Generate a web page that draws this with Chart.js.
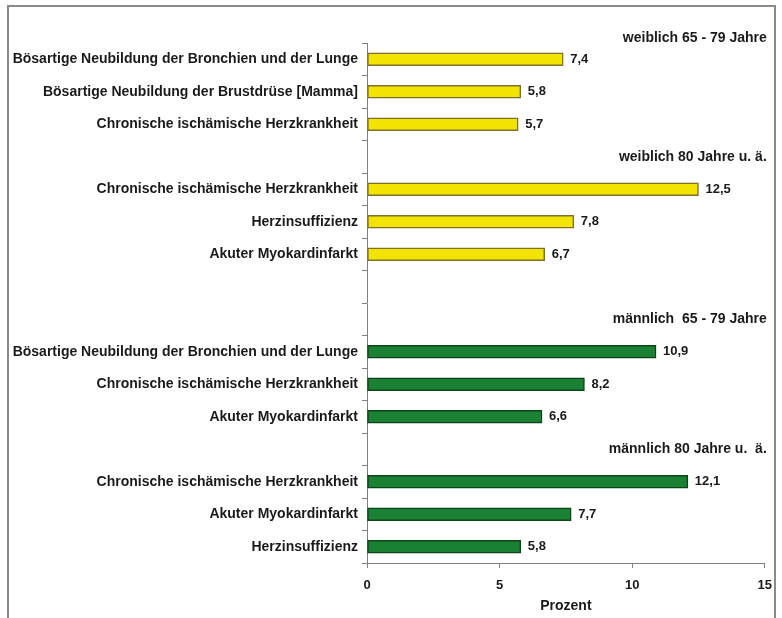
<!DOCTYPE html>
<html lang="de">
<head>
    <meta charset="UTF-8">
    <title>Todesursachen nach Alter und Geschlecht</title>
    <script src="https://cdn.jsdelivr.net/npm/chart.js"></script>
    <style>
        body {
            margin: 0;
            padding: 0;
            background: #ffffff;
        }
        #wrap {
            position: relative;
            width: 782px;
            height: 618px;
        }
    </style>
</head>
<body>
    <div id="wrap">
        <canvas id="ursachenChart" width="782" height="618"></canvas>
    </div>

    <script>
        // Kategorien (leere Zeilen = Abstand zwischen den Gruppen)
        const kategorien = [
            'Bösartige Neubildung der Bronchien und der Lunge',
            'Bösartige Neubildung der Brustdrüse [Mamma]',
            'Chronische ischämische Herzkrankheit',
            '',
            'Chronische ischämische Herzkrankheit',
            'Herzinsuffizienz',
            'Akuter Myokardinfarkt',
            '',
            '',
            'Bösartige Neubildung der Bronchien und der Lunge',
            'Chronische ischämische Herzkrankheit',
            'Akuter Myokardinfarkt',
            '',
            'Chronische ischämische Herzkrankheit',
            'Akuter Myokardinfarkt',
            'Herzinsuffizienz'
        ];
        const prozent = [7.4, 5.8, 5.7, null, 12.5, 7.8, 6.7, null, null, 10.9, 8.2, 6.6, null, 12.1, 7.7, 5.8];
        const geschlecht = ['w', 'w', 'w', '', 'w', 'w', 'w', '', '', 'm', 'm', 'm', '', 'm', 'm', 'm'];

        // Gruppenüberschriften und die Zeile, in der sie stehen (-1 = über dem Diagramm)
        const gruppen = ['weiblich 65 - 79 Jahre', 'weiblich 80 Jahre u. ä.', 'männlich  65 - 79 Jahre', 'männlich 80 Jahre u.  ä.'];
        const gruppenZeile = [-1, 3, 8, 12];

        const xTicks = [0, 5, 10, 15];

        const FONT = "'Liberation Sans', Arial, sans-serif";

        const farben = { w: '#f2e400', m: '#1a8034' };
        const rahmen = { w: '#7e702a', m: '#0c4418' };

        const beschriftung = {
            id: 'beschriftung',
            beforeDraw(chart) {
                const ctx = chart.ctx;
                ctx.save();
                ctx.strokeStyle = '#8a8a8a';
                ctx.lineWidth = 2;
                ctx.strokeRect(8, 6, 767, 640);
                ctx.restore();
            },
            afterDatasetsDraw(chart) {
                const ctx = chart.ctx;
                const meta = chart.getDatasetMeta(0);
                const y = chart.scales.y;
                ctx.save();
                ctx.fillStyle = '#1a1a1a';
                ctx.font = 'bold 13px ' + FONT;
                ctx.textBaseline = 'middle';
                ctx.textAlign = 'left';
                meta.data.forEach((bar, i) => {
                    if (prozent[i] == null) return;
                    ctx.fillText(prozent[i].toFixed(1).replace('.', ','), bar.x + 7, bar.y);
                });
                ctx.font = 'bold 14px ' + FONT;
                ctx.textAlign = 'right';
                gruppen.forEach((txt, i) => {
                    const z = gruppenZeile[i];
                    const py = z < 0 ? chart.chartArea.top - 5 : y.getPixelForValue(z);
                    ctx.fillText(txt, chart.chartArea.right + 2, py);
                });
                ctx.restore();
            }
        };

        const ctx = document.getElementById('ursachenChart').getContext('2d');
        new Chart(ctx, {
            type: 'bar',
            data: {
                labels: kategorien,
                datasets: [{
                    data: prozent,
                    backgroundColor: geschlecht.map(g => farben[g] || 'transparent'),
                    borderColor: geschlecht.map(g => rahmen[g] || 'transparent'),
                    borderWidth: 1.5,
                    borderSkipped: false,
                    barThickness: 13
                }]
            },
            options: {
                indexAxis: 'y',
                responsive: false,
                animation: false,
                layout: { padding: { top: 43, right: 14, left: 0, bottom: 0 } },
                plugins: {
                    legend: { display: false },
                    tooltip: { enabled: false }
                },
                scales: {
                    x: {
                        min: 0,
                        max: 15,
                        afterBuildTicks: s => { s.ticks = xTicks.map(v => ({ value: v })); },
                        afterFit: s => { s.height = 55; },
                        border: { color: '#808080', width: 1 },
                        grid: { drawOnChartArea: false, tickLength: 5, color: '#808080' },
                        ticks: {
                            color: '#1a1a1a',
                            padding: 10,
                            font: { family: FONT, size: 13, weight: 'bold' }
                        },
                        title: {
                            display: true,
                            text: 'Prozent',
                            color: '#1a1a1a',
                            padding: { top: 0, bottom: 3 },
                            font: { family: FONT, size: 14, weight: 'bold' }
                        }
                    },
                    y: {
                        afterFit: s => { s.width = 367; },
                        border: { color: '#808080', width: 1 },
                        grid: { drawOnChartArea: false, tickLength: 5, color: '#808080', offset: true },
                        ticks: {
                            color: '#1a1a1a',
                            padding: 4,
                            autoSkip: false,
                            font: { family: FONT, size: 14, weight: 'bold' }
                        }
                    }
                }
            },
            plugins: [beschriftung]
        });
    </script>
</body>
</html>
